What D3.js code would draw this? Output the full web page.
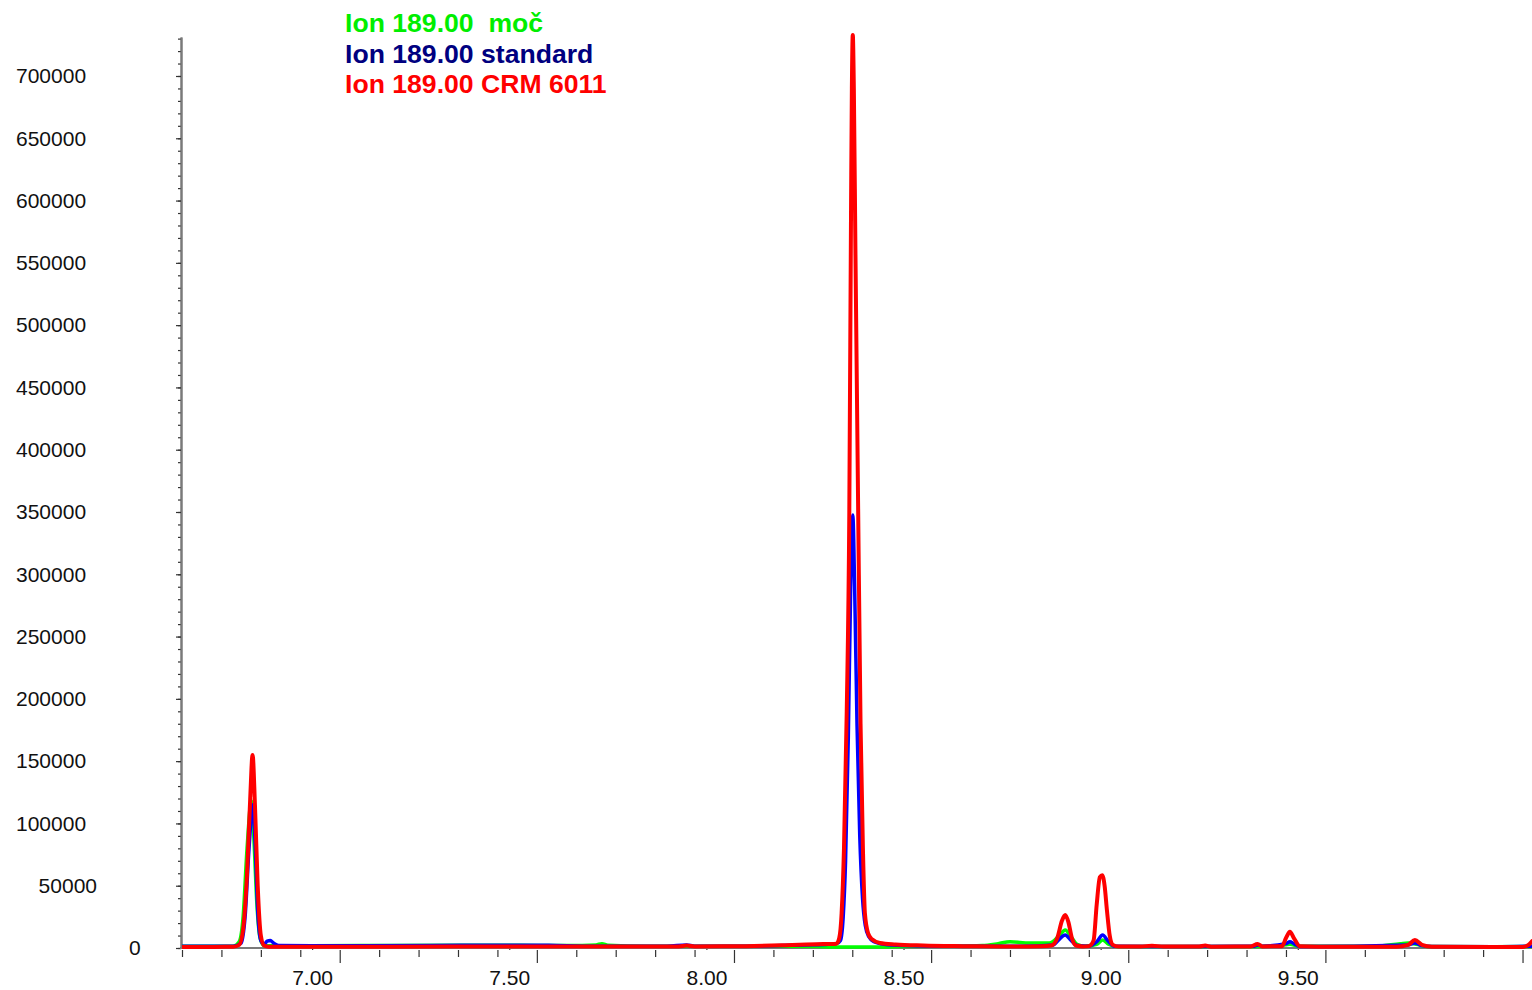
<!DOCTYPE html>
<html>
<head>
<meta charset="utf-8">
<title>Ion 189.00 chromatogram</title>
<style>
body { margin: 0; background: #fff; }
text { font-family: 'Liberation Sans', Arial, sans-serif; }
.tickLabel { font-size: 21px; fill: #111; }
.legend { font-size: 26.6px; font-weight: bold; white-space: pre; }
</style>
<script src="https://cdnjs.cloudflare.com/ajax/libs/d3/7.8.5/d3.min.js"></script>
</head>
<body>
<svg id="chart" width="1532" height="990"></svg>
<script>

// series names and colours, as in the legend
var seriesNames = ['Ion 189.00  moč', 'Ion 189.00 standard', 'Ion 189.00 CRM 6011'];
var lineColors = ['#00ff00', '#0000ff', '#ff0000'];
var legendColors = ['#00ee00', '#000080', '#ff0000'];

// retention time (min), abundance
var mocPoints = [
	[6.67, 1500], [6.80, 1500], [6.815, 5000], [6.825, 25000], [6.835, 80000], [6.846, 118000],
	[6.852, 90000], [6.860, 35000], [6.868, 8000], [6.878, 2000], [6.90, 1800], [7.00, 1800],
	[7.20, 2000], [7.50, 2200], [7.65, 2000], [7.72, 2500], [7.735, 3500], [7.75, 2200],
	[7.85, 1500], [8.00, 1500], [8.20, 1500], [8.28, 1200], [8.32, 800], [8.45, 800],
	[8.50, 1200], [8.60, 1500], [8.70, 2000], [8.74, 3500], [8.77, 5000], [8.82, 4000],
	[8.87, 4000], [8.895, 10000], [8.91, 14500], [8.925, 9000], [8.94, 3000], [8.96, 1500],
	[8.99, 3000], [9.005, 6400], [9.02, 3000], [9.04, 1200], [9.20, 1200], [9.40, 1200],
	[9.47, 2500], [9.48, 3000], [9.50, 1500], [9.70, 1500], [9.76, 3500], [9.78, 4000],
	[9.80, 3000], [9.83, 1200], [10.00, 1000], [10.094, 1200]
];

var standardPoints = [
	[6.67, 1500], [6.80, 1500], [6.82, 4000], [6.83, 25000], [6.840, 80000], [6.850, 115000],
	[6.856, 80000], [6.862, 30000], [6.870, 6000], [6.878, 3000], [6.886, 5500], [6.894, 6000],
	[6.902, 4000], [6.915, 2000], [7.00, 1800], [7.30, 2000], [7.50, 2300], [7.60, 2200],
	[7.70, 1500], [7.90, 1500], [7.95, 2500], [7.97, 1500], [8.10, 1500], [8.25, 2500],
	[8.31, 3000], [8.330, 3500], [8.340, 6000], [8.347, 25000], [8.353, 70000], [8.360, 170000],
	[8.366, 290000], [8.3713, 347600], [8.376, 290000], [8.382, 180000], [8.389, 90000],
	[8.396, 40000], [8.403, 18000], [8.412, 9000], [8.425, 5000], [8.45, 3000], [8.50, 2000],
	[8.60, 1500], [8.80, 1500], [8.88, 2500], [8.895, 7000], [8.91, 10400], [8.925, 6000],
	[8.94, 2000], [8.97, 1500], [8.99, 5000], [9.005, 10400], [9.018, 6000], [9.035, 1500],
	[9.20, 1200], [9.39, 1500], [9.40, 2500], [9.41, 1500], [9.47, 3500], [9.48, 5000],
	[9.49, 3500], [9.505, 1200], [9.78, 2500], [9.797, 4000], [9.815, 2000], [9.84, 1200],
	[10.00, 1000], [10.094, 1500]
];

var crmPoints = [
	[6.67, 800], [6.75, 900], [6.80, 1000], [6.815, 2500], [6.825, 15000], [6.835, 60000],
	[6.843, 120000], [6.849, 155000], [6.855, 115000], [6.862, 50000], [6.870, 10000],
	[6.878, 2000], [6.89, 1000], [7.00, 1000], [7.20, 1100], [7.50, 1200], [7.70, 1200],
	[7.93, 1300], [7.95, 2000], [7.97, 1300], [8.10, 1500], [8.20, 2200], [8.28, 3000],
	[8.330, 3500], [8.337, 8000], [8.343, 28000], [8.349, 80000], [8.356, 190000],
	[8.3625, 350000], [8.367, 600000], [8.369, 690000], [8.3713, 733000], [8.374, 690000],
	[8.378, 560000], [8.385, 350000], [8.391, 180000], [8.397, 80000], [8.402, 28000],
	[8.41, 12000], [8.42, 7000], [8.44, 4000], [8.48, 2800], [8.55, 2000], [8.65, 1500],
	[8.75, 1200], [8.85, 1500], [8.875, 2000], [8.890, 8000], [8.902, 22000], [8.910, 26500],
	[8.918, 21000], [8.927, 8000], [8.937, 2000], [8.955, 1300], [8.970, 1500], [8.982, 6000],
	[8.990, 35000], [8.998, 57000], [9.004, 58500], [9.010, 50000], [9.016, 30000],
	[9.023, 10000], [9.031, 2500], [9.045, 1200], [9.10, 1200], [9.13, 1800], [9.16, 1200],
	[9.25, 1200], [9.265, 2000], [9.28, 1100], [9.38, 1200], [9.398, 3200], [9.41, 1300],
	[9.46, 1500], [9.47, 8000], [9.48, 13000], [9.49, 8000], [9.505, 1500], [9.60, 1000],
	[9.75, 1000], [9.78, 2500], [9.797, 6400], [9.815, 2500], [9.84, 1000], [10.00, 800],
	[10.07, 900], [10.085, 2500], [10.094, 5500]
];

var xLabelTicks = [7.00, 7.50, 8.00, 8.50, 9.00, 9.50];
var yLabelTicks = [0, 50000, 100000, 150000, 200000, 250000, 300000, 350000,
	400000, 450000, 500000, 550000, 600000, 650000, 700000];

var series = [mocPoints, standardPoints, crmPoints];
var strokeWidths = [3.5, 3.5, 4];

var svg = d3.select('#chart');

var xLeft = 182, xRight = 1532;
var yBase = 948, yTop = 37;
var tStart = 6.67, tEnd = 10.094;
var yMax = 731300;

var x = d3.scaleLinear().domain([tStart, tEnd]).range([xLeft, xRight]);
var y = d3.scaleLinear().domain([0, yMax]).range([yBase, yTop]);

// y axis: minor ticks every 10000, major every 50000
var yMinor = d3.axisLeft(y).tickValues(d3.range(0, 730001, 10000)).tickSize(3).tickSizeOuter(0).tickFormat('');
var yMajor = d3.axisLeft(y).tickValues(yLabelTicks).tickSize(5).tickSizeOuter(0).tickFormat(function(d) { return String(d) });

var gy = svg.append('g').attr('transform', 'translate(181,0)');
gy.call(yMinor);
gy.append('g').call(yMajor);
gy.selectAll('path.domain').attr('stroke', '#7a7a7a').attr('stroke-width', 2);
gy.selectAll('.tick line').attr('stroke', '#333').attr('stroke-width', 1.2);

// labels are left aligned, shifted by the number of missing digits
gy.selectAll('.tick text')
	.attr('class', 'tickLabel')
	.attr('font-size', null)
	.attr('font-family', null)
	.attr('text-anchor', 'start')
	.attr('x', function(d) { return 16 - 181 + (6 - String(d).length) * 22.6 });

// x axis: ticks every 0.1 min from the start, long ones every 0.5
var minorX = d3.range(0, 35).map(function(k) { return +(tStart + k * 0.1).toFixed(2) });
var longX = minorX.filter(function(d, i) { return i % 5 == 4 });
var shortX = minorX.filter(function(d, i) { return i % 5 != 4 });

var gx = svg.append('g').attr('transform', 'translate(0,' + yBase + ')');
gx.append('g').call(d3.axisBottom(x).tickValues(shortX).tickSize(9).tickSizeOuter(0).tickFormat(''));
gx.append('g').call(d3.axisBottom(x).tickValues(longX).tickSize(15).tickSizeOuter(0).tickFormat(''));
gx.append('g').call(d3.axisBottom(x).tickValues(xLabelTicks).tickSize(0).tickSizeOuter(0).tickFormat(d3.format('.2f')));
gx.selectAll('path.domain').attr('stroke', 'none');
gx.append('line')
	.attr('x1', xLeft - 2).attr('x2', xRight)
	.attr('y1', 0).attr('y2', 0)
	.attr('stroke', '#7a7a7a').attr('stroke-width', 2);
gx.selectAll('.tick line').attr('stroke', '#333').attr('stroke-width', 1.2).attr('y1', 2);
gx.selectAll('.tick text')
	.attr('class', 'tickLabel')
	.attr('font-size', null)
	.attr('font-family', null)
	.attr('y', 37)
	.attr('dy', 0);

// traces
var line = d3.line()
	.x(function(d) { return x(d[0]) })
	.y(function(d) { return y(d[1]) })
	.curve(d3.curveMonotoneX);

svg.append('clipPath').attr('id', 'plotClip')
	.append('rect').attr('x', xLeft).attr('y', 0).attr('width', xRight - xLeft).attr('height', yBase + 2);

svg.append('g').attr('clip-path', 'url(#plotClip)')
	.selectAll('path')
	.data(series)
	.enter()
	.append('path')
	.attr('d', line)
	.attr('fill', 'none')
	.attr('stroke', function(d, i) { return lineColors[i] })
	.attr('stroke-width', function(d, i) { return strokeWidths[i] })
	.attr('stroke-linejoin', 'round')
	.attr('stroke-linecap', 'round');

// legend
svg.selectAll('.legend')
	.data(seriesNames)
	.enter()
	.append('text')
	.attr('class', 'legend')
	.attr('x', 345)
	.attr('y', function(d, i) { return 32 + i * 30.7 })
	.attr('fill', function(d, i) { return legendColors[i] })
	.text(function(d) { return d });

</script>
</body>
</html>
